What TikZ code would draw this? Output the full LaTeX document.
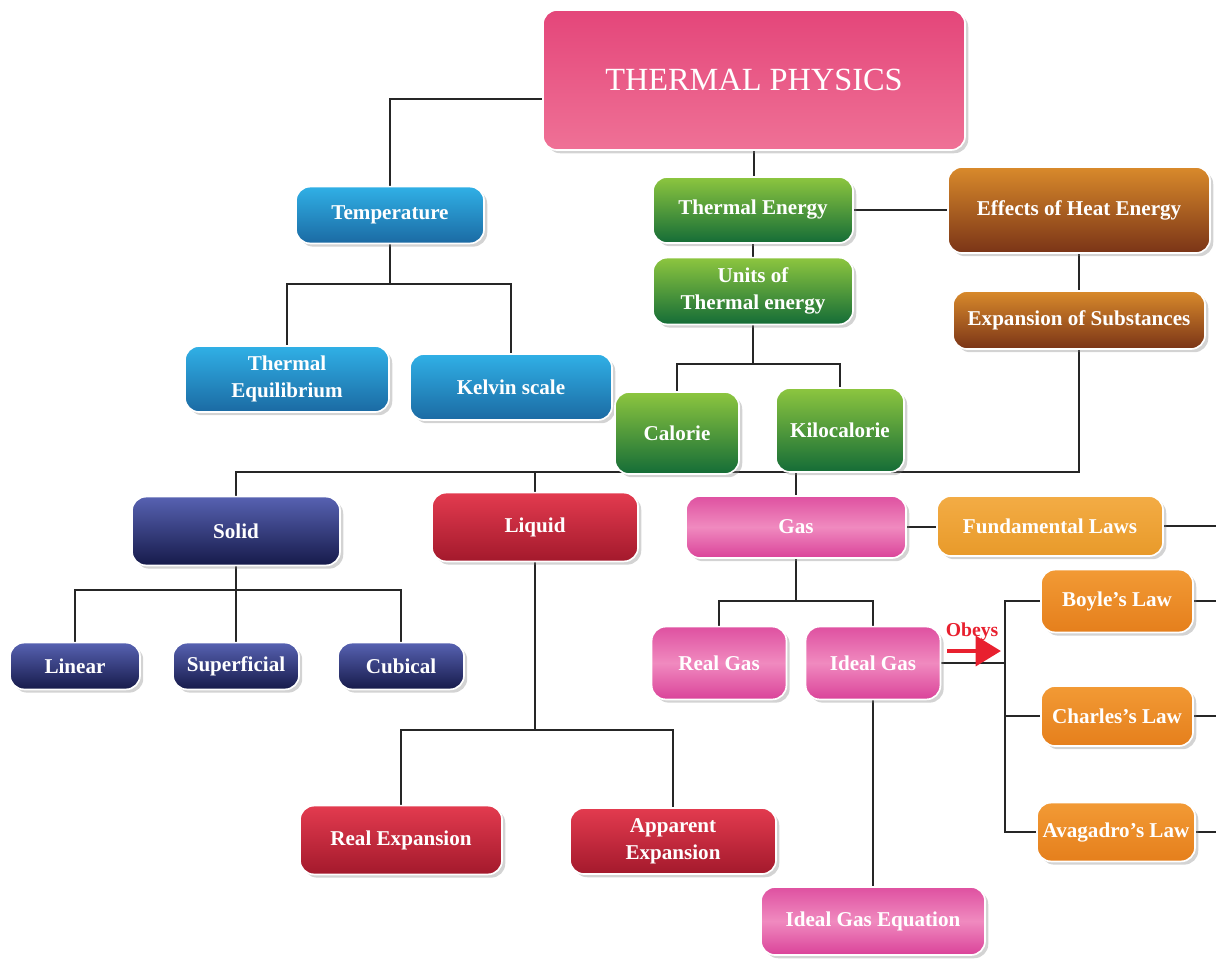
\documentclass[tikz,border=0pt]{standalone}
\usepackage{fontspec}
\setmainfont{Liberation Serif}
\usetikzlibrary{calc,shadows,backgrounds,arrows.meta}

\definecolor{tptop}{HTML}{E4467A}
\definecolor{tpbot}{HTML}{EF7196}
\definecolor{bluetop}{HTML}{30B0E6}
\definecolor{bluebot}{HTML}{1B6AA3}
\definecolor{greentop}{HTML}{8DC63F}
\definecolor{greenbot}{HTML}{146C37}
\definecolor{browntop}{HTML}{D98A2B}
\definecolor{brownbot}{HTML}{7A3417}
\definecolor{navytop}{HTML}{5762B2}
\definecolor{navybot}{HTML}{161A4A}
\definecolor{redtop}{HTML}{E33B4F}
\definecolor{redbot}{HTML}{A3192C}
\definecolor{pinkmid}{HTML}{F08ABF}
\definecolor{pinkedge}{HTML}{DA4299}
\definecolor{fundtop}{HTML}{F3AC45}
\definecolor{fundbot}{HTML}{E89A2A}
\definecolor{lawtop}{HTML}{F29A35}
\definecolor{lawbot}{HTML}{E57F1C}
\definecolor{obeyred}{HTML}{E8202F}

\tikzset{
  box/.style={rounded corners=10pt, draw=white, line width=1.2pt, text=white,
    font=\bfseries\fontsize{15}{19.5}\selectfont, align=center, inner sep=2pt,
    drop shadow={opacity=0.35}},
  tpbox/.style={box, top color=tptop, bottom color=tpbot,
    font=\fontsize{23}{25}\selectfont},
  bluebox/.style={box, top color=bluetop, bottom color=bluebot},
  greenbox/.style={box, top color=greentop, bottom color=greenbot},
  brownbox/.style={box, top color=browntop, bottom color=brownbot},
  navybox/.style={box, top color=navytop, bottom color=navybot},
  redbox/.style={box, top color=redtop, bottom color=redbot},
  pinkbox/.style={box, top color=pinkedge!80!pinkmid, bottom color=pinkedge, middle color=pinkmid},
  fundbox/.style={box, top color=fundtop, bottom color=fundbot},
  lawbox/.style={box, top color=lawtop, bottom color=lawbot},
  link/.style={draw=black!85, line width=1.3pt},
  obeys/.style={draw=obeyred, line width=3.5pt, -{Triangle[length=18pt,width=21pt]}}
}

\begin{document}
\begin{tikzpicture}[x=0.025cm, y=-0.025cm]
\useasboundingbox (0,0) rectangle (1216,962);

\node[tpbox, minimum width=10.55cm, minimum height=3.5cm] (tp) at (754,80) {THERMAL PHYSICS};

\node[bluebox, minimum width=4.7cm, minimum height=1.42cm] (temp) at (390,215) {Temperature};
\node[bluebox, minimum width=5.1cm, minimum height=1.65cm] (theq) at (287,379) {Thermal\\Equilibrium};
\node[bluebox, minimum width=5.05cm, minimum height=1.65cm] (kelvin) at (511,387) {Kelvin scale};

\node[greenbox, minimum width=5.0cm, minimum height=1.65cm] (thenergy) at (753,210) {Thermal Energy};
\node[greenbox, minimum width=5.0cm, minimum height=1.67cm] (units) at (753,291) {Units of\\Thermal energy};
\node[greenbox, minimum width=3.1cm, minimum height=2.05cm] (calorie) at (677,433) {Calorie};
\node[greenbox, minimum width=3.2cm, minimum height=2.1cm] (kcal) at (840,430) {Kilocalorie};

\node[brownbox, minimum width=6.55cm, minimum height=2.15cm] (effects) at (1079,210) {Effects of Heat Energy};
\node[brownbox, minimum width=6.3cm, minimum height=1.45cm] (expansion) at (1079,320) {Expansion of Substances};

\node[navybox, minimum width=5.2cm, minimum height=1.72cm] (solid) at (236,531) {Solid};
\node[navybox, minimum width=3.25cm, minimum height=1.17cm] (linear) at (75,666) {Linear};
\node[navybox, minimum width=3.15cm, minimum height=1.17cm] (superficial) at (236,666) {Superficial};
\node[navybox, minimum width=3.15cm, minimum height=1.17cm] (cubical) at (401,666) {Cubical};

\node[redbox, minimum width=5.15cm, minimum height=1.72cm] (liquid) at (535,527) {Liquid};
\node[redbox, minimum width=5.05cm, minimum height=1.72cm] (realexp) at (401,840) {Real Expansion};
\node[redbox, minimum width=5.15cm, minimum height=1.65cm] (appexp) at (673,841) {Apparent\\Expansion};

\node[pinkbox, minimum width=5.5cm, minimum height=1.55cm] (gas) at (796,527) {Gas};
\node[pinkbox, minimum width=3.37cm, minimum height=1.82cm] (realgas) at (719,663) {Real Gas};
\node[pinkbox, minimum width=3.37cm, minimum height=1.82cm] (idealgas) at (873,663) {Ideal Gas};
\node[pinkbox, minimum width=5.6cm, minimum height=1.7cm] (ideq) at (873,921) {Ideal Gas Equation};

\node[fundbox, minimum width=5.65cm, minimum height=1.5cm] (fundlaws) at (1050,526) {Fundamental Laws};
\node[lawbox, minimum width=3.8cm, minimum height=1.57cm] (boyle) at (1117,601) {Boyle's Law};
\node[lawbox, minimum width=3.8cm, minimum height=1.5cm] (charles) at (1117,716) {Charles's Law};
\node[lawbox, minimum width=3.95cm, minimum height=1.47cm] (avagadro) at (1116,832) {Avagadro's Law};

\coordinate (tempbus) at ($(temp.south)+(0,40)$);
\coordinate (unitbus) at ($(units.south)+(0,39)$);
\coordinate (statebus) at ($(expansion.south)+(0,122)$);
\coordinate (solidbus) at ($(solid.south)+(0,24)$);
\coordinate (liquidbus) at ($(liquid.south)+(0,168)$);
\coordinate (gasbus) at ($(gas.south)+(0,42)$);
\coordinate (lawbus) at (1005,664);
\coordinate (redge) at (1216,0);
\coordinate (obeysfrom) at (947,651);
\coordinate (obeysto) at (1001,651);

\begin{scope}[on background layer]
\draw[link] ($(tp.west)+(0,19)$) -| (temp.north);
\draw[link] (temp.south) -- (tempbus) -| (theq.north);
\draw[link] (tempbus) -| (kelvin.north);
\draw[link] (tp.south) -- (tp.south |- thenergy.north);
\draw[link] (thenergy) -- (effects);
\draw[link] (thenergy) -- (units);
\draw[link] (units.south) -- (unitbus) -| (calorie.north);
\draw[link] (unitbus) -| (kcal.north);
\draw[link] (effects) -- (expansion);
\draw[link] (expansion.south) -- (statebus) -| (solid.north);
\draw[link] (statebus) -| (liquid.north);
\draw[link] (statebus) -| (gas.north);
\draw[link] (solid.south) -- (solidbus) -| (linear.north);
\draw[link] (solidbus) -| (cubical.north);
\draw[link] (solidbus) -- (superficial.north);
\draw[link] (liquid.south) -- (liquidbus) -| (realexp.north);
\draw[link] (liquidbus) -| (appexp.north);
\draw[link] (gas.east) -- (gas.east -| fundlaws.west);
\draw[link] (fundlaws.east) -- (fundlaws.east -| redge);
\draw[link] (gas.south) -- (gasbus) -| (realgas.north);
\draw[link] (gasbus) -| (idealgas.north);
\draw[link] (idealgas) -- (ideq);
\draw[link] (idealgas.east) -- (idealgas.east -| lawbus);
\draw[link] (boyle.west) -| (lawbus) |- (avagadro.west);
\draw[link] (charles.west) -- (charles.west -| lawbus);
\draw[link] (boyle.east) -- (boyle.east -| redge);
\draw[link] (charles.east) -- (charles.east -| redge);
\draw[link] (avagadro.east) -- (avagadro.east -| redge);
\end{scope}

\draw[obeys] (obeysfrom) -- (obeysto);
\node[text=obeyred, font=\bfseries\fontsize{14}{15}\selectfont] (obeylabel) at (972,632) {Obeys};
\end{tikzpicture}
\end{document}
